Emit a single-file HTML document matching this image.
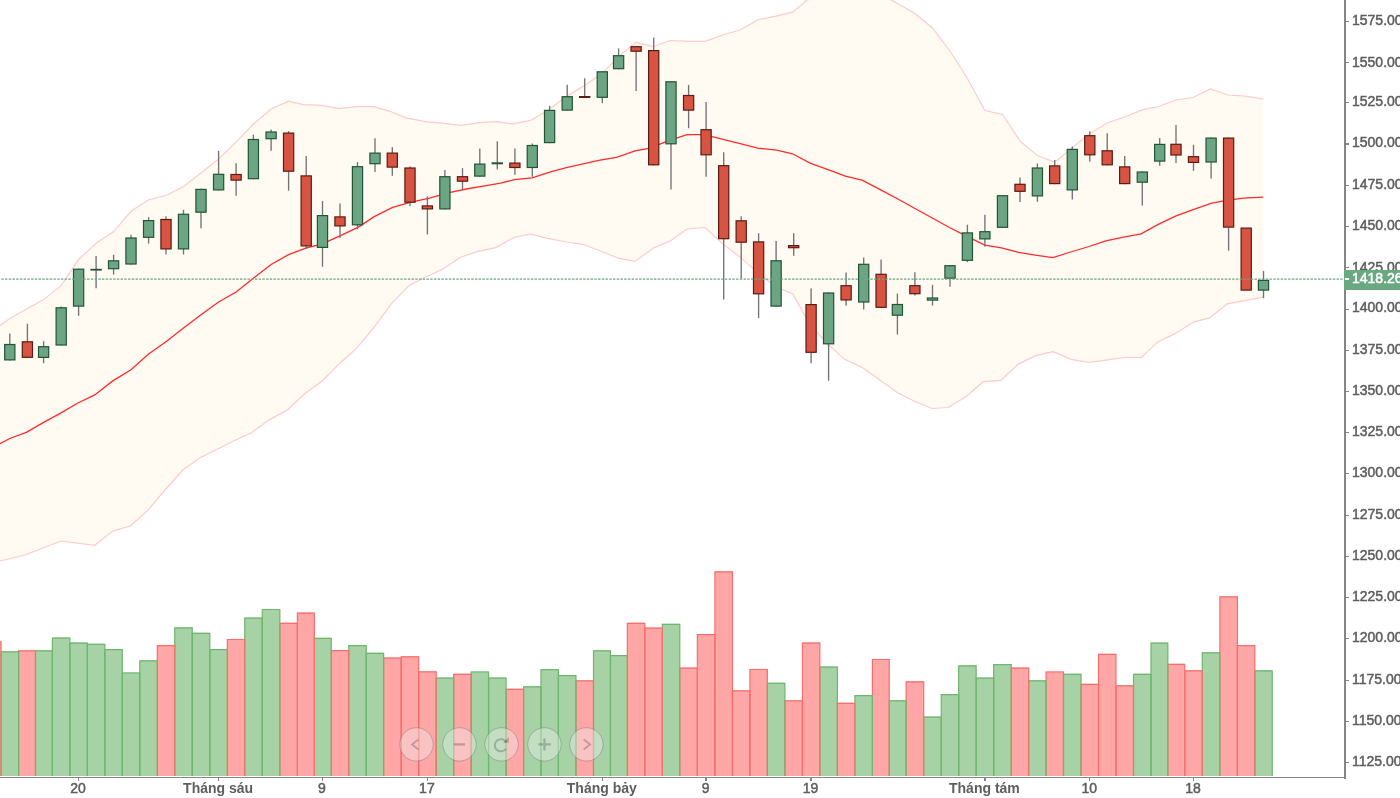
<!DOCTYPE html>
<html><head><meta charset="utf-8"><style>
html,body{margin:0;padding:0;background:#fff;}
body{width:1400px;height:798px;position:relative;overflow:hidden;font-family:"Liberation Sans",sans-serif;}
#w{position:absolute;left:0;top:0;width:1400px;height:798px;filter:blur(0.35px);}
.pl{position:absolute;left:1352px;font-size:14px;line-height:16px;color:#5e5e5e;white-space:nowrap;-webkit-text-stroke:0.5px currentColor;}
.tl{position:absolute;top:779.7px;width:120px;text-align:center;font-size:14px;line-height:16px;color:#5e5e5e;white-space:nowrap;-webkit-text-stroke:0.5px currentColor;}
.tl.b{font-weight:bold;-webkit-text-stroke:0;}
</style></head><body><div id="w">
<svg width="1345" height="777" viewBox="0 0 1345 777" style="position:absolute;left:0;top:0">
<polygon points="0.0,325.8 9.8,318.4 27.4,308.6 43.6,299.6 61.2,285.6 78.6,259.5 96.1,243.2 113.6,231.6 131.0,211.3 148.6,199.7 166.0,195.5 183.5,186.5 201.0,173.0 218.6,159.0 236.1,142.2 253.4,124.0 271.1,109.0 288.5,101.2 303.2,104.7 321.6,105.3 338.7,108.7 355.8,106.6 374.2,106.6 390.0,111.3 405.8,117.9 426.8,121.8 442.6,123.2 461.0,125.3 479.5,122.6 497.0,121.6 512.8,123.9 530.4,120.4 547.9,110.2 567.2,96.1 584.7,85.6 602.3,73.3 619.8,55.5 636.0,42.3 653.3,46.7 670.0,40.5 688.0,41.3 705.0,41.3 722.5,35.0 740.0,30.0 757.5,20.0 775.0,16.3 792.5,12.1 810.8,-3.0 828.2,-11.0 845.6,-14.0 863.0,-12.0 880.4,-6.0 897.4,3.5 914.9,13.5 932.5,28.0 950.0,51.0 967.4,78.5 984.9,110.5 1002.5,114.5 1020.0,141.0 1037.4,155.5 1054.7,162.3 1072.6,147.4 1090.2,133.3 1107.7,122.8 1125.3,116.7 1142.8,109.6 1158.8,106.5 1175.5,100.0 1193.0,97.5 1210.5,89.0 1228.0,95.0 1245.5,96.2 1263.3,99.0 1263.3,297.1 1244.3,300.7 1227.3,303.9 1209.5,317.9 1193.4,322.1 1175.5,333.4 1158.6,341.4 1141.1,357.5 1123.8,357.5 1105.9,360.2 1088.9,362.5 1071.1,359.3 1053.2,351.6 1036.3,355.4 1018.4,364.1 1000.9,380.4 983.3,381.7 965.8,396.7 948.2,407.5 931.9,408.5 915.6,401.7 898.0,393.0 880.5,380.4 863.0,367.9 844.2,359.1 827.9,344.1 810.3,325.3 792.8,294.0 775.2,286.4 757.7,272.6 740.1,257.1 722.6,243.8 705.0,227.5 687.0,229.0 670.3,240.9 653.6,248.0 635.0,261.4 618.3,258.2 599.7,250.8 583.0,244.3 566.3,242.0 547.7,238.3 531.0,234.1 514.3,237.2 495.7,247.6 477.1,251.7 460.4,257.3 443.0,269.0 425.6,277.0 409.3,285.4 391.1,304.2 373.9,327.7 356.6,348.1 339.4,363.7 322.2,381.0 305.0,393.5 287.7,409.8 268.9,420.1 251.7,432.7 234.5,440.5 217.2,449.3 200.0,457.7 182.9,470.0 164.5,490.5 147.4,510.8 130.3,526.0 113.2,530.8 94.7,545.3 61.0,541.0 25.0,555.0 0.0,561.0" fill="#fffbf3"/>
<polyline points="0.0,325.8 9.8,318.4 27.4,308.6 43.6,299.6 61.2,285.6 78.6,259.5 96.1,243.2 113.6,231.6 131.0,211.3 148.6,199.7 166.0,195.5 183.5,186.5 201.0,173.0 218.6,159.0 236.1,142.2 253.4,124.0 271.1,109.0 288.5,101.2 303.2,104.7 321.6,105.3 338.7,108.7 355.8,106.6 374.2,106.6 390.0,111.3 405.8,117.9 426.8,121.8 442.6,123.2 461.0,125.3 479.5,122.6 497.0,121.6 512.8,123.9 530.4,120.4 547.9,110.2 567.2,96.1 584.7,85.6 602.3,73.3 619.8,55.5 636.0,42.3 653.3,46.7 670.0,40.5 688.0,41.3 705.0,41.3 722.5,35.0 740.0,30.0 757.5,20.0 775.0,16.3 792.5,12.1 810.8,-3.0 828.2,-11.0 845.6,-14.0 863.0,-12.0 880.4,-6.0 897.4,3.5 914.9,13.5 932.5,28.0 950.0,51.0 967.4,78.5 984.9,110.5 1002.5,114.5 1020.0,141.0 1037.4,155.5 1054.7,162.3 1072.6,147.4 1090.2,133.3 1107.7,122.8 1125.3,116.7 1142.8,109.6 1158.8,106.5 1175.5,100.0 1193.0,97.5 1210.5,89.0 1228.0,95.0 1245.5,96.2 1263.3,99.0" fill="none" stroke="#ffcaca" stroke-width="1.2"/>
<polyline points="0.0,561.0 25.0,555.0 61.0,541.0 94.7,545.3 113.2,530.8 130.3,526.0 147.4,510.8 164.5,490.5 182.9,470.0 200.0,457.7 217.2,449.3 234.5,440.5 251.7,432.7 268.9,420.1 287.7,409.8 305.0,393.5 322.2,381.0 339.4,363.7 356.6,348.1 373.9,327.7 391.1,304.2 409.3,285.4 425.6,277.0 443.0,269.0 460.4,257.3 477.1,251.7 495.7,247.6 514.3,237.2 531.0,234.1 547.7,238.3 566.3,242.0 583.0,244.3 599.7,250.8 618.3,258.2 635.0,261.4 653.6,248.0 670.3,240.9 687.0,229.0 705.0,227.5 722.6,243.8 740.1,257.1 757.7,272.6 775.2,286.4 792.8,294.0 810.3,325.3 827.9,344.1 844.2,359.1 863.0,367.9 880.5,380.4 898.0,393.0 915.6,401.7 931.9,408.5 948.2,407.5 965.8,396.7 983.3,381.7 1000.9,380.4 1018.4,364.1 1036.3,355.4 1053.2,351.6 1071.1,359.3 1088.9,362.5 1105.9,360.2 1123.8,357.5 1141.1,357.5 1158.6,341.4 1175.5,333.4 1193.4,322.1 1209.5,317.9 1227.3,303.9 1244.3,300.7 1263.3,297.1" fill="none" stroke="#ffcaca" stroke-width="1.2"/>
<polyline points="0.0,443.8 9.8,438.5 26.3,432.3 43.6,422.4 60.2,413.4 77.4,403.2 94.7,394.9 112.8,380.9 131.0,369.8 148.6,354.0 166.0,341.8 183.5,328.0 201.0,314.7 218.6,302.0 236.1,292.0 253.4,278.3 271.1,264.5 288.6,254.6 305.8,248.2 321.6,244.2 340.0,235.8 358.4,227.1 374.2,216.6 392.6,207.4 411.0,202.1 429.5,198.2 447.9,192.9 466.3,189.0 484.7,185.8 500.5,183.2 514.3,179.7 532.1,177.8 549.7,172.2 566.4,167.6 583.1,163.9 599.9,160.1 616.6,157.4 635.1,150.9 650.0,148.1 668.6,140.6 687.1,134.7 700.1,134.7 713.1,136.9 739.1,143.4 757.7,148.1 776.7,150.1 792.5,153.8 810.1,163.1 828.7,169.9 845.4,176.1 862.1,180.1 880.7,189.8 897.4,198.7 914.1,208.0 932.7,218.2 949.4,227.5 966.1,235.8 984.7,245.1 1001.4,247.9 1018.6,252.4 1035.3,255.2 1052.9,257.6 1070.6,252.0 1089.1,246.5 1105.8,240.9 1123.5,237.2 1141.1,233.9 1157.8,224.6 1175.5,216.2 1193.1,209.7 1211.7,203.2 1228.4,200.1 1243.3,198.2 1263.3,197.1" fill="none" stroke="#ff2a2a" stroke-width="1.3"/>
<rect x="-16.32" y="641.3" width="17.41" height="134.7" fill="#ffa6a6"/>
<rect x="1.09" y="651.3" width="17.51" height="124.7" fill="#a6d2a6"/>
<rect x="18.60" y="650.2" width="16.90" height="125.8" fill="#ffa6a6"/>
<rect x="35.50" y="650.2" width="16.90" height="125.8" fill="#a6d2a6"/>
<rect x="52.40" y="637.5" width="17.50" height="138.5" fill="#a6d2a6"/>
<rect x="69.90" y="642.5" width="17.45" height="133.5" fill="#a6d2a6"/>
<rect x="87.35" y="643.7" width="17.50" height="132.3" fill="#a6d2a6"/>
<rect x="104.85" y="649.0" width="17.45" height="127.0" fill="#a6d2a6"/>
<rect x="122.30" y="672.4" width="17.50" height="103.6" fill="#a6d2a6"/>
<rect x="139.80" y="660.3" width="17.50" height="115.7" fill="#a6d2a6"/>
<rect x="157.30" y="645.1" width="17.45" height="130.9" fill="#ffa6a6"/>
<rect x="174.75" y="627.3" width="17.50" height="148.7" fill="#a6d2a6"/>
<rect x="192.25" y="632.7" width="17.55" height="143.3" fill="#a6d2a6"/>
<rect x="209.80" y="649.0" width="17.55" height="127.0" fill="#a6d2a6"/>
<rect x="227.35" y="638.9" width="17.40" height="137.1" fill="#ffa6a6"/>
<rect x="244.75" y="617.6" width="17.50" height="158.4" fill="#a6d2a6"/>
<rect x="262.25" y="608.9" width="17.60" height="167.1" fill="#a6d2a6"/>
<rect x="279.85" y="622.7" width="17.55" height="153.3" fill="#ffa6a6"/>
<rect x="297.40" y="612.5" width="16.95" height="163.5" fill="#ffa6a6"/>
<rect x="314.35" y="637.8" width="16.90" height="138.2" fill="#a6d2a6"/>
<rect x="331.25" y="650.1" width="17.50" height="125.9" fill="#ffa6a6"/>
<rect x="348.75" y="645.1" width="17.50" height="130.9" fill="#a6d2a6"/>
<rect x="366.25" y="652.7" width="17.40" height="123.3" fill="#a6d2a6"/>
<rect x="383.65" y="657.5" width="17.50" height="118.5" fill="#ffa6a6"/>
<rect x="401.15" y="656.2" width="17.55" height="119.8" fill="#ffa6a6"/>
<rect x="418.70" y="671.3" width="17.45" height="104.7" fill="#ffa6a6"/>
<rect x="436.15" y="677.6" width="17.55" height="98.4" fill="#a6d2a6"/>
<rect x="453.70" y="673.7" width="17.45" height="102.3" fill="#ffa6a6"/>
<rect x="471.15" y="671.4" width="17.40" height="104.6" fill="#a6d2a6"/>
<rect x="488.55" y="677.6" width="17.55" height="98.4" fill="#a6d2a6"/>
<rect x="506.10" y="688.7" width="17.50" height="87.3" fill="#ffa6a6"/>
<rect x="523.60" y="686.2" width="17.35" height="89.8" fill="#a6d2a6"/>
<rect x="540.95" y="669.0" width="17.45" height="107.0" fill="#a6d2a6"/>
<rect x="558.40" y="675.0" width="17.55" height="101.0" fill="#a6d2a6"/>
<rect x="575.95" y="680.3" width="17.55" height="95.7" fill="#ffa6a6"/>
<rect x="593.50" y="650.2" width="16.95" height="125.8" fill="#a6d2a6"/>
<rect x="610.45" y="655.1" width="16.90" height="120.9" fill="#a6d2a6"/>
<rect x="627.35" y="622.7" width="17.55" height="153.3" fill="#ffa6a6"/>
<rect x="644.90" y="627.5" width="17.45" height="148.5" fill="#ffa6a6"/>
<rect x="662.35" y="623.8" width="17.45" height="152.2" fill="#a6d2a6"/>
<rect x="679.80" y="667.5" width="17.55" height="108.5" fill="#ffa6a6"/>
<rect x="697.35" y="634.0" width="17.55" height="142.0" fill="#ffa6a6"/>
<rect x="714.90" y="571.3" width="17.55" height="204.7" fill="#ffa6a6"/>
<rect x="732.45" y="690.3" width="17.45" height="85.7" fill="#ffa6a6"/>
<rect x="749.90" y="668.9" width="17.45" height="107.1" fill="#ffa6a6"/>
<rect x="767.35" y="682.7" width="17.55" height="93.3" fill="#a6d2a6"/>
<rect x="784.90" y="700.2" width="17.50" height="75.8" fill="#ffa6a6"/>
<rect x="802.40" y="642.5" width="17.45" height="133.5" fill="#ffa6a6"/>
<rect x="819.85" y="666.5" width="17.50" height="109.5" fill="#a6d2a6"/>
<rect x="837.35" y="702.7" width="17.55" height="73.3" fill="#ffa6a6"/>
<rect x="854.90" y="695.1" width="17.50" height="80.9" fill="#a6d2a6"/>
<rect x="872.40" y="658.9" width="16.85" height="117.1" fill="#ffa6a6"/>
<rect x="889.25" y="700.2" width="16.90" height="75.8" fill="#a6d2a6"/>
<rect x="906.15" y="681.3" width="17.55" height="94.7" fill="#ffa6a6"/>
<rect x="923.70" y="716.5" width="17.55" height="59.5" fill="#a6d2a6"/>
<rect x="941.25" y="694.0" width="17.45" height="82.0" fill="#a6d2a6"/>
<rect x="958.70" y="665.2" width="17.45" height="110.8" fill="#a6d2a6"/>
<rect x="976.15" y="677.6" width="17.55" height="98.4" fill="#a6d2a6"/>
<rect x="993.70" y="664.1" width="17.55" height="111.9" fill="#a6d2a6"/>
<rect x="1011.25" y="667.5" width="17.45" height="108.5" fill="#ffa6a6"/>
<rect x="1028.70" y="680.2" width="17.35" height="95.8" fill="#a6d2a6"/>
<rect x="1046.05" y="671.4" width="17.45" height="104.6" fill="#ffa6a6"/>
<rect x="1063.50" y="673.7" width="17.55" height="102.3" fill="#a6d2a6"/>
<rect x="1081.05" y="683.8" width="17.45" height="92.2" fill="#ffa6a6"/>
<rect x="1098.50" y="653.8" width="17.45" height="122.2" fill="#ffa6a6"/>
<rect x="1115.95" y="685.2" width="17.55" height="90.8" fill="#ffa6a6"/>
<rect x="1133.50" y="673.7" width="17.50" height="102.3" fill="#a6d2a6"/>
<rect x="1151.00" y="642.6" width="16.85" height="133.4" fill="#a6d2a6"/>
<rect x="1167.85" y="663.8" width="16.90" height="112.2" fill="#ffa6a6"/>
<rect x="1184.75" y="670.2" width="17.55" height="105.8" fill="#ffa6a6"/>
<rect x="1202.30" y="652.3" width="17.55" height="123.7" fill="#a6d2a6"/>
<rect x="1219.85" y="596.3" width="17.55" height="179.7" fill="#ffa6a6"/>
<rect x="1237.40" y="645.0" width="17.45" height="131.0" fill="#ffa6a6"/>
<rect x="1254.85" y="670.3" width="17.36" height="105.7" fill="#a6d2a6"/>
<path d="M1254.85 776.0V670.9H1272.21V776.0" fill="none" stroke="#6eb66e" stroke-width="1.2"/>
<path d="M1237.40 776.0V645.6H1254.85V776.0" fill="none" stroke="#f86e6e" stroke-width="1.2"/>
<path d="M1219.85 776.0V596.9H1237.40V776.0" fill="none" stroke="#f86e6e" stroke-width="1.2"/>
<path d="M1202.30 776.0V652.9H1219.85V776.0" fill="none" stroke="#6eb66e" stroke-width="1.2"/>
<path d="M1184.75 776.0V670.8H1202.30V776.0" fill="none" stroke="#f86e6e" stroke-width="1.2"/>
<path d="M1167.85 776.0V664.4H1184.75V776.0" fill="none" stroke="#f86e6e" stroke-width="1.2"/>
<path d="M1151.00 776.0V643.2H1167.85V776.0" fill="none" stroke="#6eb66e" stroke-width="1.2"/>
<path d="M1133.50 776.0V674.3H1151.00V776.0" fill="none" stroke="#6eb66e" stroke-width="1.2"/>
<path d="M1115.95 776.0V685.8H1133.50V776.0" fill="none" stroke="#f86e6e" stroke-width="1.2"/>
<path d="M1098.50 776.0V654.4H1115.95V776.0" fill="none" stroke="#f86e6e" stroke-width="1.2"/>
<path d="M1081.05 776.0V684.4H1098.50V776.0" fill="none" stroke="#f86e6e" stroke-width="1.2"/>
<path d="M1063.50 776.0V674.3H1081.05V776.0" fill="none" stroke="#6eb66e" stroke-width="1.2"/>
<path d="M1046.05 776.0V672.0H1063.50V776.0" fill="none" stroke="#f86e6e" stroke-width="1.2"/>
<path d="M1028.70 776.0V680.8H1046.05V776.0" fill="none" stroke="#6eb66e" stroke-width="1.2"/>
<path d="M1011.25 776.0V668.1H1028.70V776.0" fill="none" stroke="#f86e6e" stroke-width="1.2"/>
<path d="M993.70 776.0V664.7H1011.25V776.0" fill="none" stroke="#6eb66e" stroke-width="1.2"/>
<path d="M976.15 776.0V678.2H993.70V776.0" fill="none" stroke="#6eb66e" stroke-width="1.2"/>
<path d="M958.70 776.0V665.8H976.15V776.0" fill="none" stroke="#6eb66e" stroke-width="1.2"/>
<path d="M941.25 776.0V694.6H958.70V776.0" fill="none" stroke="#6eb66e" stroke-width="1.2"/>
<path d="M923.70 776.0V717.1H941.25V776.0" fill="none" stroke="#6eb66e" stroke-width="1.2"/>
<path d="M906.15 776.0V681.9H923.70V776.0" fill="none" stroke="#f86e6e" stroke-width="1.2"/>
<path d="M889.25 776.0V700.8H906.15V776.0" fill="none" stroke="#6eb66e" stroke-width="1.2"/>
<path d="M872.40 776.0V659.5H889.25V776.0" fill="none" stroke="#f86e6e" stroke-width="1.2"/>
<path d="M854.90 776.0V695.7H872.40V776.0" fill="none" stroke="#6eb66e" stroke-width="1.2"/>
<path d="M837.35 776.0V703.3H854.90V776.0" fill="none" stroke="#f86e6e" stroke-width="1.2"/>
<path d="M819.85 776.0V667.1H837.35V776.0" fill="none" stroke="#6eb66e" stroke-width="1.2"/>
<path d="M802.40 776.0V643.1H819.85V776.0" fill="none" stroke="#f86e6e" stroke-width="1.2"/>
<path d="M784.90 776.0V700.8H802.40V776.0" fill="none" stroke="#f86e6e" stroke-width="1.2"/>
<path d="M767.35 776.0V683.3H784.90V776.0" fill="none" stroke="#6eb66e" stroke-width="1.2"/>
<path d="M749.90 776.0V669.5H767.35V776.0" fill="none" stroke="#f86e6e" stroke-width="1.2"/>
<path d="M732.45 776.0V690.9H749.90V776.0" fill="none" stroke="#f86e6e" stroke-width="1.2"/>
<path d="M714.90 776.0V571.9H732.45V776.0" fill="none" stroke="#f86e6e" stroke-width="1.2"/>
<path d="M697.35 776.0V634.6H714.90V776.0" fill="none" stroke="#f86e6e" stroke-width="1.2"/>
<path d="M679.80 776.0V668.1H697.35V776.0" fill="none" stroke="#f86e6e" stroke-width="1.2"/>
<path d="M662.35 776.0V624.4H679.80V776.0" fill="none" stroke="#6eb66e" stroke-width="1.2"/>
<path d="M644.90 776.0V628.1H662.35V776.0" fill="none" stroke="#f86e6e" stroke-width="1.2"/>
<path d="M627.35 776.0V623.3H644.90V776.0" fill="none" stroke="#f86e6e" stroke-width="1.2"/>
<path d="M610.45 776.0V655.7H627.35V776.0" fill="none" stroke="#6eb66e" stroke-width="1.2"/>
<path d="M593.50 776.0V650.8H610.45V776.0" fill="none" stroke="#6eb66e" stroke-width="1.2"/>
<path d="M575.95 776.0V680.9H593.50V776.0" fill="none" stroke="#f86e6e" stroke-width="1.2"/>
<path d="M558.40 776.0V675.6H575.95V776.0" fill="none" stroke="#6eb66e" stroke-width="1.2"/>
<path d="M540.95 776.0V669.6H558.40V776.0" fill="none" stroke="#6eb66e" stroke-width="1.2"/>
<path d="M523.60 776.0V686.8H540.95V776.0" fill="none" stroke="#6eb66e" stroke-width="1.2"/>
<path d="M506.10 776.0V689.3H523.60V776.0" fill="none" stroke="#f86e6e" stroke-width="1.2"/>
<path d="M488.55 776.0V678.2H506.10V776.0" fill="none" stroke="#6eb66e" stroke-width="1.2"/>
<path d="M471.15 776.0V672.0H488.55V776.0" fill="none" stroke="#6eb66e" stroke-width="1.2"/>
<path d="M453.70 776.0V674.3H471.15V776.0" fill="none" stroke="#f86e6e" stroke-width="1.2"/>
<path d="M436.15 776.0V678.2H453.70V776.0" fill="none" stroke="#6eb66e" stroke-width="1.2"/>
<path d="M418.70 776.0V671.9H436.15V776.0" fill="none" stroke="#f86e6e" stroke-width="1.2"/>
<path d="M401.15 776.0V656.8H418.70V776.0" fill="none" stroke="#f86e6e" stroke-width="1.2"/>
<path d="M383.65 776.0V658.1H401.15V776.0" fill="none" stroke="#f86e6e" stroke-width="1.2"/>
<path d="M366.25 776.0V653.3H383.65V776.0" fill="none" stroke="#6eb66e" stroke-width="1.2"/>
<path d="M348.75 776.0V645.7H366.25V776.0" fill="none" stroke="#6eb66e" stroke-width="1.2"/>
<path d="M331.25 776.0V650.7H348.75V776.0" fill="none" stroke="#f86e6e" stroke-width="1.2"/>
<path d="M314.35 776.0V638.4H331.25V776.0" fill="none" stroke="#6eb66e" stroke-width="1.2"/>
<path d="M297.40 776.0V613.1H314.35V776.0" fill="none" stroke="#f86e6e" stroke-width="1.2"/>
<path d="M279.85 776.0V623.3H297.40V776.0" fill="none" stroke="#f86e6e" stroke-width="1.2"/>
<path d="M262.25 776.0V609.5H279.85V776.0" fill="none" stroke="#6eb66e" stroke-width="1.2"/>
<path d="M244.75 776.0V618.2H262.25V776.0" fill="none" stroke="#6eb66e" stroke-width="1.2"/>
<path d="M227.35 776.0V639.5H244.75V776.0" fill="none" stroke="#f86e6e" stroke-width="1.2"/>
<path d="M209.80 776.0V649.6H227.35V776.0" fill="none" stroke="#6eb66e" stroke-width="1.2"/>
<path d="M192.25 776.0V633.3H209.80V776.0" fill="none" stroke="#6eb66e" stroke-width="1.2"/>
<path d="M174.75 776.0V627.9H192.25V776.0" fill="none" stroke="#6eb66e" stroke-width="1.2"/>
<path d="M157.30 776.0V645.7H174.75V776.0" fill="none" stroke="#f86e6e" stroke-width="1.2"/>
<path d="M139.80 776.0V660.9H157.30V776.0" fill="none" stroke="#6eb66e" stroke-width="1.2"/>
<path d="M122.30 776.0V673.0H139.80V776.0" fill="none" stroke="#6eb66e" stroke-width="1.2"/>
<path d="M104.85 776.0V649.6H122.30V776.0" fill="none" stroke="#6eb66e" stroke-width="1.2"/>
<path d="M87.35 776.0V644.3H104.85V776.0" fill="none" stroke="#6eb66e" stroke-width="1.2"/>
<path d="M69.90 776.0V643.1H87.35V776.0" fill="none" stroke="#6eb66e" stroke-width="1.2"/>
<path d="M52.40 776.0V638.1H69.90V776.0" fill="none" stroke="#6eb66e" stroke-width="1.2"/>
<path d="M35.50 776.0V650.8H52.40V776.0" fill="none" stroke="#6eb66e" stroke-width="1.2"/>
<path d="M18.60 776.0V650.8H35.50V776.0" fill="none" stroke="#f86e6e" stroke-width="1.2"/>
<path d="M1.09 776.0V651.9H18.60V776.0" fill="none" stroke="#6eb66e" stroke-width="1.2"/>
<path d="M-16.32 776.0V641.9H1.09V776.0" fill="none" stroke="#f86e6e" stroke-width="1.2"/>
<line x1="9.80" y1="333.5" x2="9.80" y2="360.5" stroke="#737375" stroke-width="1.35"/>
<rect x="4.70" y="344.50" width="10.2" height="15.40" fill="#6ba583" stroke="#225437" stroke-width="1.2"/>
<line x1="27.40" y1="323.7" x2="27.40" y2="357.9" stroke="#737375" stroke-width="1.35"/>
<rect x="22.30" y="341.80" width="10.2" height="15.50" fill="#d75442" stroke="#5b1a13" stroke-width="1.2"/>
<line x1="43.60" y1="341.2" x2="43.60" y2="363.2" stroke="#737375" stroke-width="1.35"/>
<rect x="38.50" y="346.70" width="10.2" height="10.70" fill="#6ba583" stroke="#225437" stroke-width="1.2"/>
<line x1="61.20" y1="306.5" x2="61.20" y2="345.6" stroke="#737375" stroke-width="1.35"/>
<rect x="56.10" y="307.80" width="10.2" height="37.20" fill="#6ba583" stroke="#225437" stroke-width="1.2"/>
<line x1="78.60" y1="268.6" x2="78.60" y2="315.8" stroke="#737375" stroke-width="1.35"/>
<rect x="73.50" y="269.20" width="10.2" height="36.90" fill="#6ba583" stroke="#225437" stroke-width="1.2"/>
<line x1="96.10" y1="256.1" x2="96.10" y2="288.2" stroke="#737375" stroke-width="1.35"/>
<rect x="90.40" y="268.8" width="11.4" height="1.8" fill="#225437"/>
<line x1="113.60" y1="254.7" x2="113.60" y2="274.6" stroke="#737375" stroke-width="1.35"/>
<rect x="108.50" y="260.80" width="10.2" height="7.90" fill="#6ba583" stroke="#225437" stroke-width="1.2"/>
<line x1="131.00" y1="234.7" x2="131.00" y2="264.6" stroke="#737375" stroke-width="1.35"/>
<rect x="125.90" y="238.00" width="10.2" height="26.00" fill="#6ba583" stroke="#225437" stroke-width="1.2"/>
<line x1="148.60" y1="217.2" x2="148.60" y2="243.5" stroke="#737375" stroke-width="1.35"/>
<rect x="143.50" y="220.60" width="10.2" height="16.70" fill="#6ba583" stroke="#225437" stroke-width="1.2"/>
<line x1="166.00" y1="216.3" x2="166.00" y2="254.4" stroke="#737375" stroke-width="1.35"/>
<rect x="160.90" y="219.50" width="10.2" height="29.40" fill="#d75442" stroke="#5b1a13" stroke-width="1.2"/>
<line x1="183.50" y1="209.8" x2="183.50" y2="254.4" stroke="#737375" stroke-width="1.35"/>
<rect x="178.40" y="214.30" width="10.2" height="34.60" fill="#6ba583" stroke="#225437" stroke-width="1.2"/>
<line x1="201.00" y1="188.8" x2="201.00" y2="228.2" stroke="#737375" stroke-width="1.35"/>
<rect x="195.90" y="189.40" width="10.2" height="22.80" fill="#6ba583" stroke="#225437" stroke-width="1.2"/>
<line x1="218.60" y1="150.9" x2="218.60" y2="190.5" stroke="#737375" stroke-width="1.35"/>
<rect x="213.50" y="174.30" width="10.2" height="15.60" fill="#6ba583" stroke="#225437" stroke-width="1.2"/>
<line x1="236.10" y1="163.2" x2="236.10" y2="195.8" stroke="#737375" stroke-width="1.35"/>
<rect x="231.00" y="174.50" width="10.2" height="5.60" fill="#d75442" stroke="#5b1a13" stroke-width="1.2"/>
<line x1="253.40" y1="134.6" x2="253.40" y2="179.3" stroke="#737375" stroke-width="1.35"/>
<rect x="248.30" y="139.50" width="10.2" height="39.20" fill="#6ba583" stroke="#225437" stroke-width="1.2"/>
<line x1="271.10" y1="129.6" x2="271.10" y2="150.7" stroke="#737375" stroke-width="1.35"/>
<rect x="266.00" y="132.00" width="10.2" height="6.70" fill="#6ba583" stroke="#225437" stroke-width="1.2"/>
<line x1="288.60" y1="131.0" x2="288.60" y2="190.7" stroke="#737375" stroke-width="1.35"/>
<rect x="283.50" y="133.10" width="10.2" height="38.10" fill="#d75442" stroke="#5b1a13" stroke-width="1.2"/>
<line x1="306.20" y1="156.0" x2="306.20" y2="249.1" stroke="#737375" stroke-width="1.35"/>
<rect x="301.10" y="175.90" width="10.2" height="70.00" fill="#d75442" stroke="#5b1a13" stroke-width="1.2"/>
<line x1="322.50" y1="200.9" x2="322.50" y2="266.8" stroke="#737375" stroke-width="1.35"/>
<rect x="317.40" y="215.60" width="10.2" height="31.80" fill="#6ba583" stroke="#225437" stroke-width="1.2"/>
<line x1="340.00" y1="203.5" x2="340.00" y2="238.0" stroke="#737375" stroke-width="1.35"/>
<rect x="334.90" y="216.90" width="10.2" height="9.00" fill="#d75442" stroke="#5b1a13" stroke-width="1.2"/>
<line x1="357.50" y1="162.1" x2="357.50" y2="229.3" stroke="#737375" stroke-width="1.35"/>
<rect x="352.40" y="166.70" width="10.2" height="58.10" fill="#6ba583" stroke="#225437" stroke-width="1.2"/>
<line x1="375.00" y1="138.3" x2="375.00" y2="172.0" stroke="#737375" stroke-width="1.35"/>
<rect x="369.90" y="153.10" width="10.2" height="10.60" fill="#6ba583" stroke="#225437" stroke-width="1.2"/>
<line x1="392.30" y1="147.2" x2="392.30" y2="175.8" stroke="#737375" stroke-width="1.35"/>
<rect x="387.20" y="153.10" width="10.2" height="14.00" fill="#d75442" stroke="#5b1a13" stroke-width="1.2"/>
<line x1="410.00" y1="166.5" x2="410.00" y2="206.0" stroke="#737375" stroke-width="1.35"/>
<rect x="404.90" y="168.00" width="10.2" height="34.20" fill="#d75442" stroke="#5b1a13" stroke-width="1.2"/>
<line x1="427.40" y1="196.3" x2="427.40" y2="234.4" stroke="#737375" stroke-width="1.35"/>
<rect x="422.30" y="205.90" width="10.2" height="3.00" fill="#d75442" stroke="#5b1a13" stroke-width="1.2"/>
<line x1="444.90" y1="170.0" x2="444.90" y2="209.5" stroke="#737375" stroke-width="1.35"/>
<rect x="439.80" y="176.70" width="10.2" height="32.20" fill="#6ba583" stroke="#225437" stroke-width="1.2"/>
<line x1="462.50" y1="168.2" x2="462.50" y2="189.8" stroke="#737375" stroke-width="1.35"/>
<rect x="457.40" y="176.70" width="10.2" height="4.50" fill="#d75442" stroke="#5b1a13" stroke-width="1.2"/>
<line x1="479.80" y1="148.4" x2="479.80" y2="176.7" stroke="#737375" stroke-width="1.35"/>
<rect x="474.70" y="164.10" width="10.2" height="12.00" fill="#6ba583" stroke="#225437" stroke-width="1.2"/>
<line x1="497.30" y1="141.2" x2="497.30" y2="169.5" stroke="#737375" stroke-width="1.35"/>
<rect x="491.60" y="162.3" width="11.4" height="2.0" fill="#225437"/>
<line x1="514.90" y1="148.4" x2="514.90" y2="174.7" stroke="#737375" stroke-width="1.35"/>
<rect x="509.80" y="163.10" width="10.2" height="4.40" fill="#d75442" stroke="#5b1a13" stroke-width="1.2"/>
<line x1="532.30" y1="143.5" x2="532.30" y2="176.8" stroke="#737375" stroke-width="1.35"/>
<rect x="527.20" y="145.50" width="10.2" height="22.00" fill="#6ba583" stroke="#225437" stroke-width="1.2"/>
<line x1="549.60" y1="105.8" x2="549.60" y2="143.2" stroke="#737375" stroke-width="1.35"/>
<rect x="544.50" y="110.40" width="10.2" height="32.20" fill="#6ba583" stroke="#225437" stroke-width="1.2"/>
<line x1="567.20" y1="84.7" x2="567.20" y2="110.7" stroke="#737375" stroke-width="1.35"/>
<rect x="562.10" y="96.70" width="10.2" height="13.40" fill="#6ba583" stroke="#225437" stroke-width="1.2"/>
<line x1="584.70" y1="78.2" x2="584.70" y2="98.0" stroke="#737375" stroke-width="1.35"/>
<rect x="579.00" y="96.0" width="11.4" height="2.0" fill="#5b1a13"/>
<line x1="602.30" y1="71.2" x2="602.30" y2="103.2" stroke="#737375" stroke-width="1.35"/>
<rect x="597.20" y="71.80" width="10.2" height="25.50" fill="#6ba583" stroke="#225437" stroke-width="1.2"/>
<line x1="618.60" y1="48.4" x2="618.60" y2="69.3" stroke="#737375" stroke-width="1.35"/>
<rect x="613.50" y="55.70" width="10.2" height="13.00" fill="#6ba583" stroke="#225437" stroke-width="1.2"/>
<line x1="636.10" y1="46.1" x2="636.10" y2="90.9" stroke="#737375" stroke-width="1.35"/>
<rect x="631.00" y="46.70" width="10.2" height="4.50" fill="#d75442" stroke="#5b1a13" stroke-width="1.2"/>
<line x1="653.70" y1="37.4" x2="653.70" y2="165.4" stroke="#737375" stroke-width="1.35"/>
<rect x="648.60" y="50.60" width="10.2" height="114.20" fill="#d75442" stroke="#5b1a13" stroke-width="1.2"/>
<line x1="671.00" y1="81.2" x2="671.00" y2="189.5" stroke="#737375" stroke-width="1.35"/>
<rect x="665.90" y="81.80" width="10.2" height="62.00" fill="#6ba583" stroke="#225437" stroke-width="1.2"/>
<line x1="688.60" y1="84.9" x2="688.60" y2="128.2" stroke="#737375" stroke-width="1.35"/>
<rect x="683.50" y="95.50" width="10.2" height="14.60" fill="#d75442" stroke="#5b1a13" stroke-width="1.2"/>
<line x1="706.10" y1="101.9" x2="706.10" y2="176.8" stroke="#737375" stroke-width="1.35"/>
<rect x="701.00" y="129.70" width="10.2" height="25.10" fill="#d75442" stroke="#5b1a13" stroke-width="1.2"/>
<line x1="723.70" y1="152.3" x2="723.70" y2="299.6" stroke="#737375" stroke-width="1.35"/>
<rect x="718.60" y="165.70" width="10.2" height="73.00" fill="#d75442" stroke="#5b1a13" stroke-width="1.2"/>
<line x1="741.20" y1="216.3" x2="741.20" y2="278.8" stroke="#737375" stroke-width="1.35"/>
<rect x="736.10" y="220.80" width="10.2" height="21.40" fill="#d75442" stroke="#5b1a13" stroke-width="1.2"/>
<line x1="758.60" y1="233.3" x2="758.60" y2="318.2" stroke="#737375" stroke-width="1.35"/>
<rect x="753.50" y="241.90" width="10.2" height="51.90" fill="#d75442" stroke="#5b1a13" stroke-width="1.2"/>
<line x1="776.10" y1="241.1" x2="776.10" y2="306.7" stroke="#737375" stroke-width="1.35"/>
<rect x="771.00" y="260.80" width="10.2" height="45.30" fill="#6ba583" stroke="#225437" stroke-width="1.2"/>
<line x1="793.70" y1="233.2" x2="793.70" y2="255.8" stroke="#737375" stroke-width="1.35"/>
<rect x="788.60" y="245.60" width="10.2" height="2.10" fill="#d75442" stroke="#5b1a13" stroke-width="1.2"/>
<line x1="811.10" y1="288.5" x2="811.10" y2="363.2" stroke="#737375" stroke-width="1.35"/>
<rect x="806.00" y="304.60" width="10.2" height="47.70" fill="#d75442" stroke="#5b1a13" stroke-width="1.2"/>
<line x1="828.60" y1="292.4" x2="828.60" y2="380.7" stroke="#737375" stroke-width="1.35"/>
<rect x="823.50" y="293.00" width="10.2" height="50.80" fill="#6ba583" stroke="#225437" stroke-width="1.2"/>
<line x1="846.10" y1="272.5" x2="846.10" y2="305.8" stroke="#737375" stroke-width="1.35"/>
<rect x="841.00" y="285.70" width="10.2" height="14.20" fill="#d75442" stroke="#5b1a13" stroke-width="1.2"/>
<line x1="863.70" y1="257.4" x2="863.70" y2="309.6" stroke="#737375" stroke-width="1.35"/>
<rect x="858.60" y="264.30" width="10.2" height="37.70" fill="#6ba583" stroke="#225437" stroke-width="1.2"/>
<line x1="881.10" y1="259.6" x2="881.10" y2="307.9" stroke="#737375" stroke-width="1.35"/>
<rect x="876.00" y="274.30" width="10.2" height="33.00" fill="#d75442" stroke="#5b1a13" stroke-width="1.2"/>
<line x1="897.40" y1="293.5" x2="897.40" y2="334.6" stroke="#737375" stroke-width="1.35"/>
<rect x="892.30" y="304.50" width="10.2" height="10.70" fill="#6ba583" stroke="#225437" stroke-width="1.2"/>
<line x1="914.90" y1="272.3" x2="914.90" y2="295.6" stroke="#737375" stroke-width="1.35"/>
<rect x="909.80" y="285.70" width="10.2" height="8.00" fill="#d75442" stroke="#5b1a13" stroke-width="1.2"/>
<line x1="932.50" y1="284.9" x2="932.50" y2="305.6" stroke="#737375" stroke-width="1.35"/>
<rect x="927.40" y="298.00" width="10.2" height="2.10" fill="#6ba583" stroke="#225437" stroke-width="1.2"/>
<line x1="950.00" y1="265.1" x2="950.00" y2="286.7" stroke="#737375" stroke-width="1.35"/>
<rect x="944.90" y="265.70" width="10.2" height="12.50" fill="#6ba583" stroke="#225437" stroke-width="1.2"/>
<line x1="967.40" y1="224.7" x2="967.40" y2="262.1" stroke="#737375" stroke-width="1.35"/>
<rect x="962.30" y="232.90" width="10.2" height="27.40" fill="#6ba583" stroke="#225437" stroke-width="1.2"/>
<line x1="984.90" y1="214.7" x2="984.90" y2="246.7" stroke="#737375" stroke-width="1.35"/>
<rect x="979.80" y="231.70" width="10.2" height="7.20" fill="#6ba583" stroke="#225437" stroke-width="1.2"/>
<rect x="997.40" y="195.70" width="10.2" height="31.60" fill="#6ba583" stroke="#225437" stroke-width="1.2"/>
<line x1="1020.00" y1="177.4" x2="1020.00" y2="201.9" stroke="#737375" stroke-width="1.35"/>
<rect x="1014.90" y="184.30" width="10.2" height="7.00" fill="#d75442" stroke="#5b1a13" stroke-width="1.2"/>
<line x1="1037.40" y1="163.5" x2="1037.40" y2="201.8" stroke="#737375" stroke-width="1.35"/>
<rect x="1032.30" y="168.00" width="10.2" height="27.90" fill="#6ba583" stroke="#225437" stroke-width="1.2"/>
<line x1="1054.70" y1="160.0" x2="1054.70" y2="184.2" stroke="#737375" stroke-width="1.35"/>
<rect x="1049.60" y="165.90" width="10.2" height="17.70" fill="#d75442" stroke="#5b1a13" stroke-width="1.2"/>
<line x1="1072.30" y1="146.5" x2="1072.30" y2="199.6" stroke="#737375" stroke-width="1.35"/>
<rect x="1067.20" y="149.40" width="10.2" height="40.50" fill="#6ba583" stroke="#225437" stroke-width="1.2"/>
<line x1="1089.80" y1="131.2" x2="1089.80" y2="161.8" stroke="#737375" stroke-width="1.35"/>
<rect x="1084.70" y="135.70" width="10.2" height="19.10" fill="#d75442" stroke="#5b1a13" stroke-width="1.2"/>
<line x1="1107.20" y1="133.3" x2="1107.20" y2="165.4" stroke="#737375" stroke-width="1.35"/>
<rect x="1102.10" y="150.80" width="10.2" height="14.00" fill="#d75442" stroke="#5b1a13" stroke-width="1.2"/>
<line x1="1124.70" y1="156.1" x2="1124.70" y2="184.2" stroke="#737375" stroke-width="1.35"/>
<rect x="1119.60" y="166.90" width="10.2" height="16.70" fill="#d75442" stroke="#5b1a13" stroke-width="1.2"/>
<line x1="1142.30" y1="171.4" x2="1142.30" y2="205.6" stroke="#737375" stroke-width="1.35"/>
<rect x="1137.20" y="172.00" width="10.2" height="10.20" fill="#6ba583" stroke="#225437" stroke-width="1.2"/>
<line x1="1159.70" y1="138.1" x2="1159.70" y2="165.8" stroke="#737375" stroke-width="1.35"/>
<rect x="1154.60" y="144.40" width="10.2" height="16.70" fill="#6ba583" stroke="#225437" stroke-width="1.2"/>
<line x1="1176.00" y1="124.9" x2="1176.00" y2="163.0" stroke="#737375" stroke-width="1.35"/>
<rect x="1170.90" y="144.30" width="10.2" height="10.70" fill="#d75442" stroke="#5b1a13" stroke-width="1.2"/>
<line x1="1193.50" y1="144.7" x2="1193.50" y2="170.9" stroke="#737375" stroke-width="1.35"/>
<rect x="1188.40" y="156.70" width="10.2" height="5.70" fill="#d75442" stroke="#5b1a13" stroke-width="1.2"/>
<line x1="1211.10" y1="137.5" x2="1211.10" y2="178.4" stroke="#737375" stroke-width="1.35"/>
<rect x="1206.00" y="138.10" width="10.2" height="23.90" fill="#6ba583" stroke="#225437" stroke-width="1.2"/>
<line x1="1228.60" y1="137.5" x2="1228.60" y2="250.7" stroke="#737375" stroke-width="1.35"/>
<rect x="1223.50" y="138.10" width="10.2" height="89.00" fill="#d75442" stroke="#5b1a13" stroke-width="1.2"/>
<rect x="1241.10" y="228.10" width="10.2" height="62.00" fill="#d75442" stroke="#5b1a13" stroke-width="1.2"/>
<line x1="1263.50" y1="271.0" x2="1263.50" y2="298.2" stroke="#737375" stroke-width="1.35"/>
<rect x="1258.40" y="280.40" width="10.2" height="9.70" fill="#6ba583" stroke="#225437" stroke-width="1.2"/>
<line x1="0" y1="279.1" x2="1345" y2="279.1" stroke="#6ba583" stroke-width="1.2" stroke-dasharray="2.4 1.33" stroke-dashoffset="2.46"/>
</svg>
<div style="position:absolute;left:1344.2px;top:0;width:1.4px;height:778.5px;background:#858585"></div>
<div style="position:absolute;left:0;top:777px;width:1345.6px;height:1.4px;background:#858585"></div>
<div style="position:absolute;left:1345px;top:762.1px;width:4px;height:1.3px;background:#858585"></div>
<div style="position:absolute;left:1345px;top:720.9px;width:4px;height:1.3px;background:#858585"></div>
<div style="position:absolute;left:1345px;top:679.6px;width:4px;height:1.3px;background:#858585"></div>
<div style="position:absolute;left:1345px;top:638.1px;width:4px;height:1.3px;background:#858585"></div>
<div style="position:absolute;left:1345px;top:597.1px;width:4px;height:1.3px;background:#858585"></div>
<div style="position:absolute;left:1345px;top:555.8px;width:4px;height:1.3px;background:#858585"></div>
<div style="position:absolute;left:1345px;top:514.8px;width:4px;height:1.3px;background:#858585"></div>
<div style="position:absolute;left:1345px;top:473.2px;width:4px;height:1.3px;background:#858585"></div>
<div style="position:absolute;left:1345px;top:432.2px;width:4px;height:1.3px;background:#858585"></div>
<div style="position:absolute;left:1345px;top:390.9px;width:4px;height:1.3px;background:#858585"></div>
<div style="position:absolute;left:1345px;top:349.6px;width:4px;height:1.3px;background:#858585"></div>
<div style="position:absolute;left:1345px;top:308.5px;width:4px;height:1.3px;background:#858585"></div>
<div style="position:absolute;left:1345px;top:267.1px;width:4px;height:1.3px;background:#858585"></div>
<div style="position:absolute;left:1345px;top:225.8px;width:4px;height:1.3px;background:#858585"></div>
<div style="position:absolute;left:1345px;top:184.5px;width:4px;height:1.3px;background:#858585"></div>
<div style="position:absolute;left:1345px;top:143.4px;width:4px;height:1.3px;background:#858585"></div>
<div style="position:absolute;left:1345px;top:102.0px;width:4px;height:1.3px;background:#858585"></div>
<div style="position:absolute;left:1345px;top:62.0px;width:4px;height:1.3px;background:#858585"></div>
<div style="position:absolute;left:1345px;top:20.8px;width:4px;height:1.3px;background:#858585"></div>
<div style="position:absolute;left:77.95px;top:778px;width:1.3px;height:3px;background:#858585"></div>
<div style="position:absolute;left:217.95px;top:778px;width:1.3px;height:3px;background:#858585"></div>
<div style="position:absolute;left:321.85px;top:778px;width:1.3px;height:3px;background:#858585"></div>
<div style="position:absolute;left:426.75px;top:778px;width:1.3px;height:3px;background:#858585"></div>
<div style="position:absolute;left:601.65px;top:778px;width:1.3px;height:3px;background:#858585"></div>
<div style="position:absolute;left:705.45px;top:778px;width:1.3px;height:3px;background:#858585"></div>
<div style="position:absolute;left:810.45px;top:778px;width:1.3px;height:3px;background:#858585"></div>
<div style="position:absolute;left:984.25px;top:778px;width:1.3px;height:3px;background:#858585"></div>
<div style="position:absolute;left:1089.15px;top:778px;width:1.3px;height:3px;background:#858585"></div>
<div style="position:absolute;left:1192.85px;top:778px;width:1.3px;height:3px;background:#858585"></div>
<div class="pl" style="top:753px">1125.00</div>
<div class="pl" style="top:712px">1150.00</div>
<div class="pl" style="top:671px">1175.00</div>
<div class="pl" style="top:629px">1200.00</div>
<div class="pl" style="top:588px">1225.00</div>
<div class="pl" style="top:547px">1250.00</div>
<div class="pl" style="top:506px">1275.00</div>
<div class="pl" style="top:464px">1300.00</div>
<div class="pl" style="top:423px">1325.00</div>
<div class="pl" style="top:382px">1350.00</div>
<div class="pl" style="top:341px">1375.00</div>
<div class="pl" style="top:299px">1400.00</div>
<div class="pl" style="top:259px">1425.00</div>
<div class="pl" style="top:217px">1450.00</div>
<div class="pl" style="top:176px">1475.00</div>
<div class="pl" style="top:134px">1500.00</div>
<div class="pl" style="top:93px">1525.00</div>
<div class="pl" style="top:54px">1550.00</div>
<div class="pl" style="top:12px">1575.00</div>
<div style="position:absolute;left:1344px;top:270px;width:56px;height:19.5px;background:#6aa882"></div>
<div style="position:absolute;left:1345px;top:278.4px;width:4px;height:1.3px;background:#ffffff"></div>
<div class="pl" style="top:270.0px;color:#fff">1418.26</div>
<div class="tl" style="left:18.10px">20</div>
<div class="tl b" style="left:158.10px">Tháng sáu</div>
<div class="tl" style="left:262.00px">9</div>
<div class="tl" style="left:366.90px">17</div>
<div class="tl b" style="left:541.80px">Tháng bảy</div>
<div class="tl" style="left:645.60px">9</div>
<div class="tl" style="left:750.60px">19</div>
<div class="tl b" style="left:924.40px">Tháng tám</div>
<div class="tl" style="left:1029.30px">10</div>
<div class="tl" style="left:1133.00px">18</div>
<svg width="1400" height="798" style="position:absolute;left:0;top:0">
<g transform="translate(416.45 744.4)"><circle r="16.7" fill="#f0f0f0" fill-opacity="0.4" stroke="#646464" stroke-opacity="0.36" stroke-width="1"/><path d="M1.95 -5 L-4.4 0 L1.95 5" fill="none" stroke="#000" stroke-opacity="0.21" stroke-width="1.9"/></g>
<g transform="translate(459.50 744.4)"><circle r="16.7" fill="#f0f0f0" fill-opacity="0.4" stroke="#646464" stroke-opacity="0.36" stroke-width="1"/><path d="M-5.5 0 H5.5" fill="none" stroke="#000" stroke-opacity="0.21" stroke-width="2.4"/></g>
<g transform="translate(501.60 744.4)"><circle r="16.7" fill="#f0f0f0" fill-opacity="0.4" stroke="#646464" stroke-opacity="0.36" stroke-width="1"/><g transform="translate(-1 0.2)"><path d="M5.3 4.1 A6.1 6.1 0 1 1 5.6 -2.3" fill="none" stroke="#000" stroke-opacity="0.21" stroke-width="2"/><path d="M8.2 -7.6 L8.2 -1.8 L2.4 -1.8 Z" fill="#000" fill-opacity="0.21"/></g></g>
<g transform="translate(544.50 744.4)"><circle r="16.7" fill="#f0f0f0" fill-opacity="0.4" stroke="#646464" stroke-opacity="0.36" stroke-width="1"/><path d="M-6.3 0 H6.3 M0 -6 V6" fill="none" stroke="#000" stroke-opacity="0.21" stroke-width="2.3"/></g>
<g transform="translate(586.40 744.4)"><circle r="16.7" fill="#f0f0f0" fill-opacity="0.4" stroke="#646464" stroke-opacity="0.36" stroke-width="1"/><path d="M-2.8 -5.2 L3.7 0 L-2.8 5.2" fill="none" stroke="#000" stroke-opacity="0.21" stroke-width="1.9"/></g>
</svg>
</div></body></html>
